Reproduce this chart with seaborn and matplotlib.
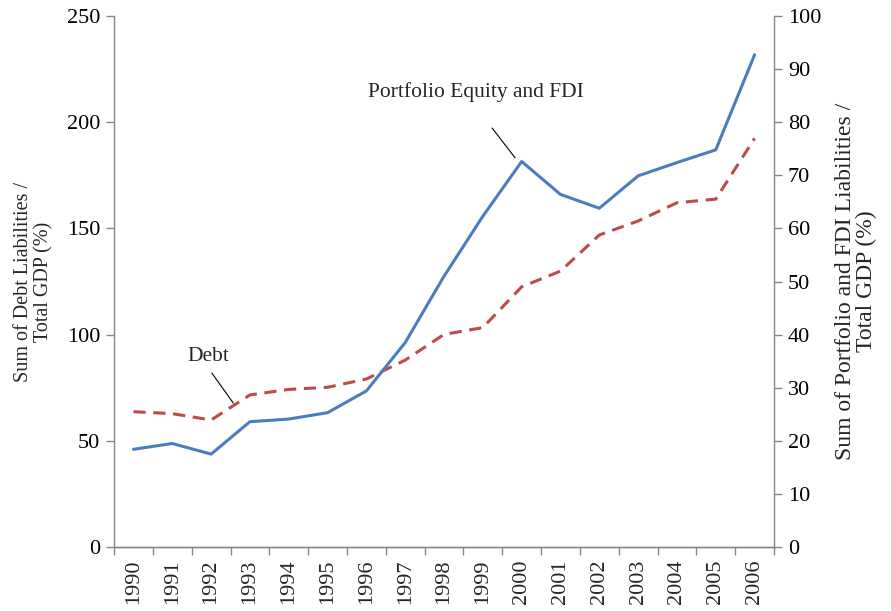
import seaborn as sns
import matplotlib.pyplot as plt
import pandas as pd

years = [str(y) for y in range(1990, 2007)]
# Sum of portfolio equity and FDI liabilities / total GDP (%), right axis
equity_fdi = [18.4, 19.5, 17.5, 23.6, 24.1, 25.3, 29.4, 38.5, 51.0, 62.3,
              72.6, 66.4, 63.8, 69.9, 72.4, 74.8, 92.7]
# Sum of debt liabilities / total GDP (%), left axis
debt = [63.7, 62.8, 59.8, 71.6, 74.2, 75.2, 79.1, 88.0, 100.1, 103.3,
        122.5, 129.9, 146.9, 153.5, 162.1, 163.8, 192.4]

df = pd.DataFrame({'pos': range(len(years)), 'year': years,
                   'equity_fdi': equity_fdi, 'debt': debt})

sns.set_style('white')
plt.rcParams['font.family'] = ['Liberation Serif', 'DejaVu Serif']

fig = plt.figure(figsize=(8.91, 6.11), dpi=100)
ax = fig.add_axes([0.128, 0.1047, 0.7407, 0.8691])
ax2 = ax.twinx()

sns.lineplot(data=df, x='pos', y='debt', ax=ax, color='#BE4B48',
             linewidth=2.2, linestyle=(0, (4, 2.5)))
sns.lineplot(data=df, x='pos', y='equity_fdi', ax=ax2, color='#4A7EBB',
             linewidth=2.2)

grey = '#868686'
ax.set_xlim(-0.5, len(years) - 0.5)
ax.set_ylim(0, 250)
ax2.set_ylim(0, 100)
ax.set_yticks(range(0, 251, 50))
ax2.set_yticks(range(0, 101, 10))
ax.set_xticks(range(len(years)))
ax.set_xticklabels(years, rotation=90)
ax.set_xticks([i - 0.5 for i in range(len(years) + 1)], minor=True)

for a in (ax, ax2):
    a.spines['top'].set_visible(False)
    for s in ('left', 'right', 'bottom'):
        a.spines[s].set_color(grey)
        a.spines[s].set_linewidth(1.0)
    a.tick_params(axis='y', labelsize=16, length=6, color=grey, width=1.0,
                  pad=4, labelcolor='black')
ax.spines['right'].set_visible(False)
ax2.spines['left'].set_visible(False)
ax.tick_params(axis='y', left=True)
ax2.tick_params(axis='y', right=True)
ax.tick_params(axis='x', which='major', length=0, labelsize=16, pad=9)
ax.tick_params(axis='x', which='minor', length=6, color=grey, width=1.0,
               bottom=True)

ax.set_xlabel('')
ax.set_ylabel('Sum of Debt Liabilities /\nTotal GDP (%)', fontsize=14.5,
              linespacing=1.05)
ax2.set_ylabel('Sum of Portfolio and FDI Liabilities /\nTotal GDP (%)',
               fontsize=17, rotation=90, linespacing=1.0)
ax.yaxis.set_label_coords(-0.092, 0.5)
ax2.yaxis.set_label_coords(1.092, 0.5)

# series labels with leader lines
ax2.text(8.83, 85.7, 'Portfolio Equity and FDI', fontsize=15.5,
         ha='center', va='center')
ax2.annotate('', xy=(9.83, 73.3), xytext=(9.24, 78.9),
             arrowprops=dict(arrowstyle='-', color='black', lw=0.8,
                             shrinkA=0, shrinkB=0))
ax.text(1.92, 89.5, 'Debt', fontsize=15.5, ha='center', va='center')
ax.annotate('', xy=(2.57, 67.8), xytext=(2.02, 81.9),
            arrowprops=dict(arrowstyle='-', color='black', lw=0.8,
                            shrinkA=0, shrinkB=0))

fig.savefig('out.png', dpi=100)
